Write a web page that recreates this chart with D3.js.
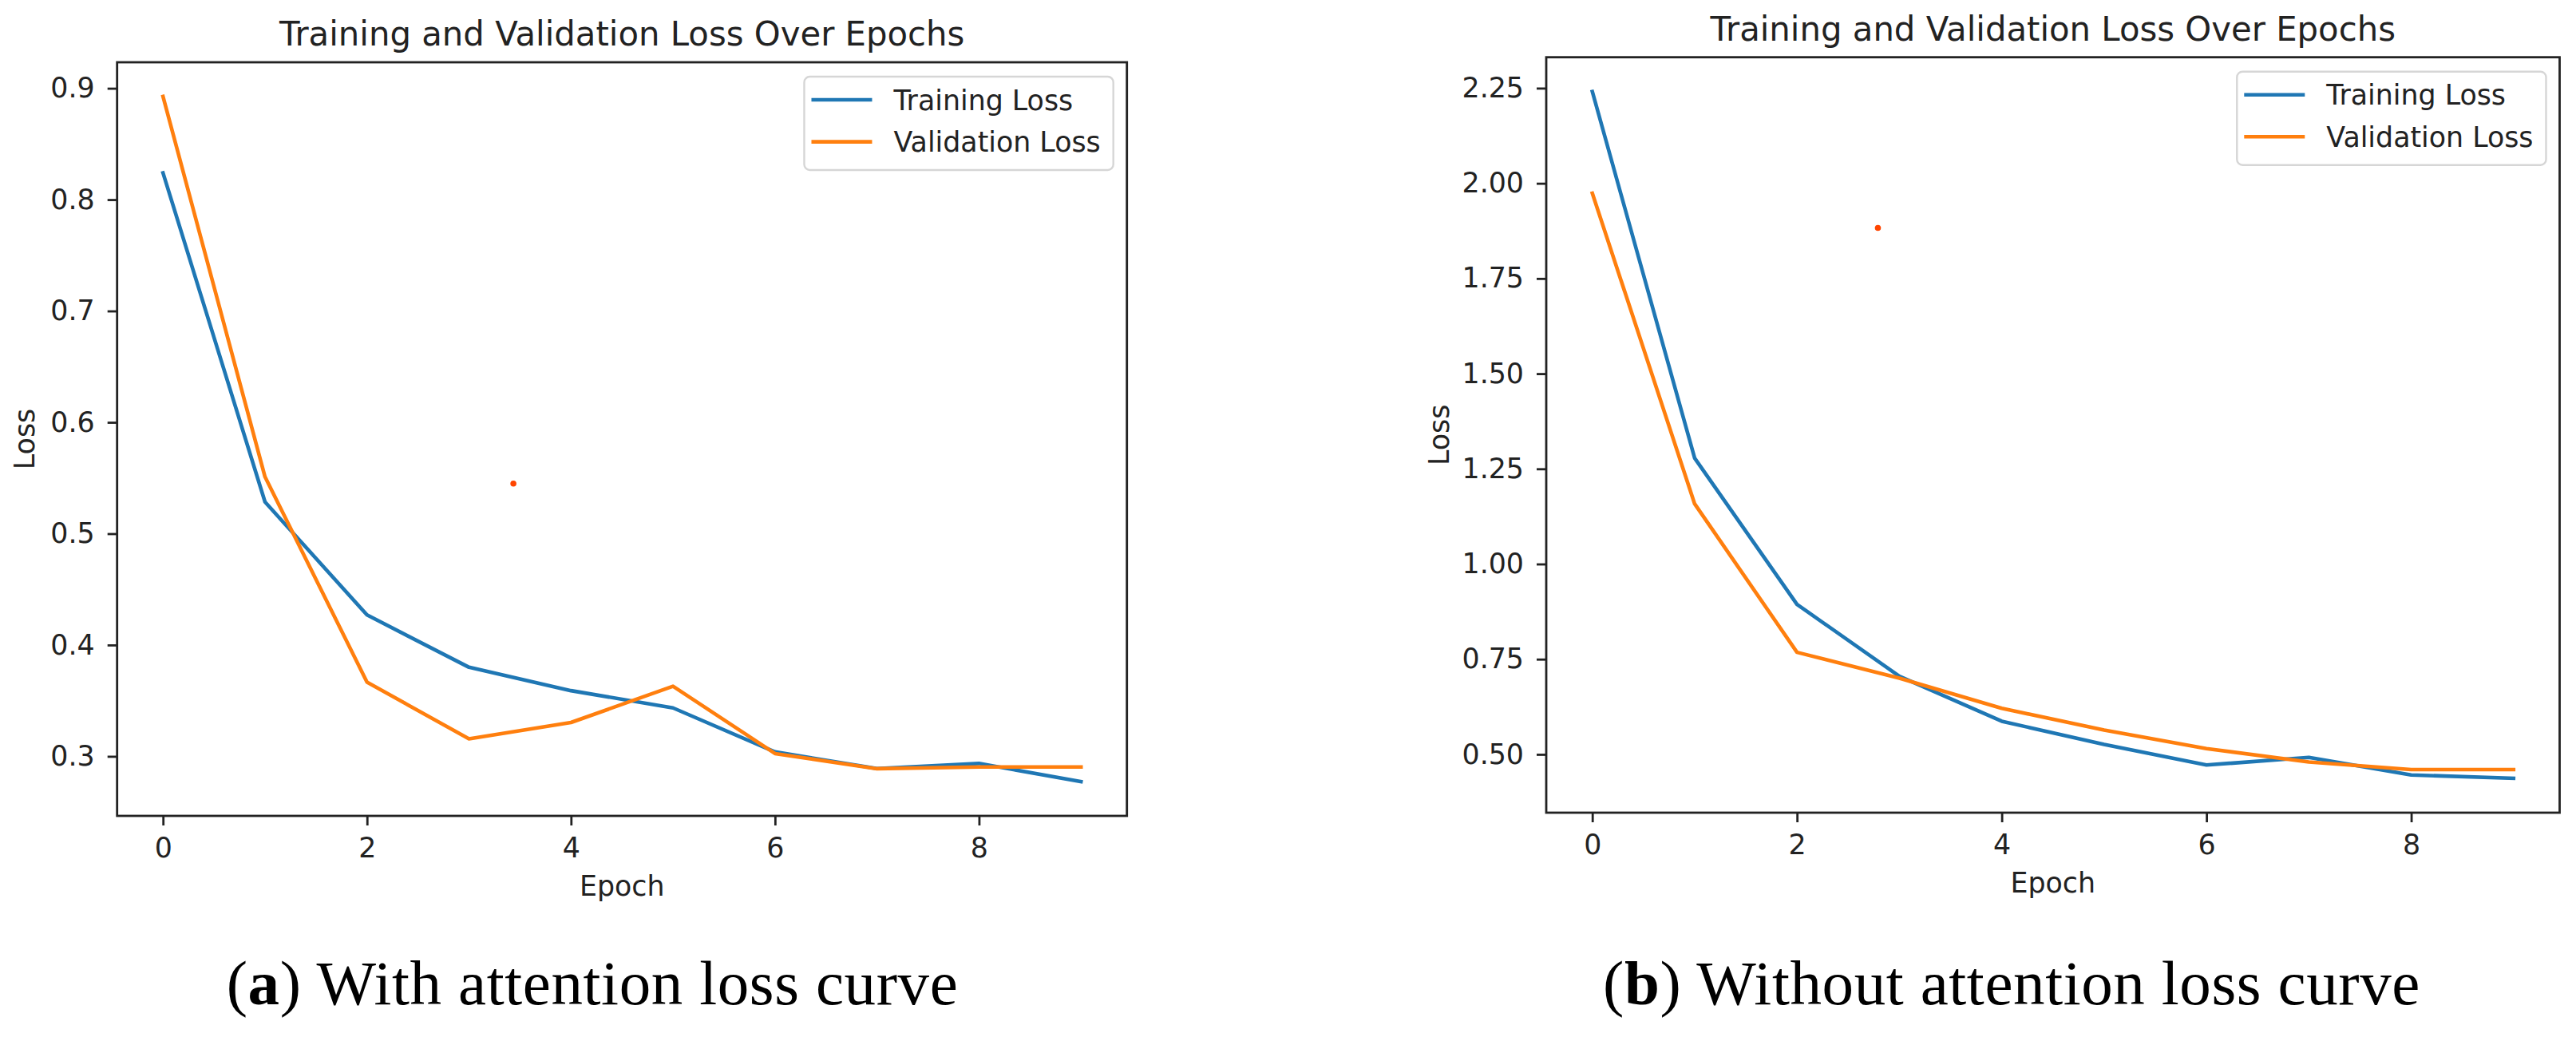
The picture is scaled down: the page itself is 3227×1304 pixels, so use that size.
<!DOCTYPE html>
<html>
<head>
<meta charset="utf-8">
<script src="https://cdn.jsdelivr.net/npm/d3@7"></script>
<style>
body { margin: 0; background: #fff; }
</style>
</head>
<body>
<script>
// values
const epochs = [0, 1, 2, 3, 4, 5, 6, 7, 8, 9];
const trainWithAtt = [0.824, 0.5285, 0.427, 0.380, 0.359, 0.3435, 0.304, 0.289, 0.2936, 0.2773];
const valWithAtt = [0.8926, 0.551, 0.3667, 0.3157, 0.3304, 0.363, 0.3025, 0.2889, 0.2904, 0.2904];
const trainNoAtt = [2.241, 1.278, 0.894, 0.705, 0.587, 0.526, 0.472, 0.492, 0.446, 0.437];
const valNoAtt = [1.974, 1.158, 0.768, 0.700, 0.621, 0.564, 0.515, 0.480, 0.460, 0.460];

// the lone orange-red dot in each plot: [epoch, loss]
const dotWithAtt = [3.435, 0.545];
const dotNoAtt = [2.79, 1.883];

// ticks and labels
const xTicks = [0, 2, 4, 6, 8];
const yTicksWithAtt = [0.3, 0.4, 0.5, 0.6, 0.7, 0.8, 0.9];
const yTicksNoAtt = [0.5, 0.75, 1.0, 1.25, 1.5, 1.75, 2.0, 2.25];
const seriesNames = ["Training Loss", "Validation Loss"];
const chartTitle = "Training and Validation Loss Over Epochs";
const captionA = ["a", " With attention loss curve"];
const captionB = ["b", " Without attention loss curve"];

const canvWidth = 3227, canvHeight = 1304;
const colors = ["#1f77b4", "#ff7f0e"];
const font = "DejaVu Sans";
const fs = 34.8;

const svg = d3.select("body").append("svg")
    .attr("width", canvWidth)
    .attr("height", canvHeight)
    .style("background", "#fff");

// matplotlib style autoscale: 5% margin each side
function padded(ext) {
    const r = ext[1] - ext[0];
    return [ext[0] - 0.05 * r, ext[1] + 0.05 * r];
}

function drawPanel(box, train, val, dot, yTicks, yFmt, ylabelOff) {
    const width = box.right - box.left;
    const height = box.bottom - box.top;

    const g = svg.append("g")
        .attr("transform", "translate(" + box.left + "," + box.top + ")");

    const xScale = d3.scaleLinear()
        .domain(padded(d3.extent(epochs)))
        .range([0, width]);
    const yScale = d3.scaleLinear()
        .domain(padded(d3.extent(train.concat(val))))
        .range([height, 0]);

    // x axis
    const xAxis = g.append("g")
        .attr("transform", "translate(0," + height + ")")
        .call(d3.axisBottom(xScale).tickValues(xTicks).tickSize(12).tickPadding(15).tickFormat(d3.format("d")));

    // y axis
    const yAxis = g.append("g")
        .call(d3.axisLeft(yScale).tickValues(yTicks).tickSize(12).tickPadding(16).tickFormat(d3.format(yFmt)));

    [xAxis, yAxis].forEach(a => {
        a.select(".domain").remove();
        a.selectAll(".tick line").attr("stroke", "#222").attr("stroke-width", 2.8);
        a.selectAll(".tick text")
            .attr("fill", "#222")
            .attr("font-family", font)
            .attr("font-size", fs);
    });

    // loss lines
    const line = d3.line()
        .x((d, i) => xScale(epochs[i]))
        .y(d => yScale(d));

    [train, val].forEach((s, k) => {
        g.append("path")
            .datum(s)
            .attr("fill", "none")
            .attr("stroke", colors[k])
            .attr("stroke-width", 4.6)
            .attr("stroke-linejoin", "round")
            .attr("stroke-linecap", "square")
            .attr("d", line);
    });

    // the stray dot
    g.append("circle")
        .attr("cx", xScale(dot[0]))
        .attr("cy", yScale(dot[1]))
        .attr("r", 3.8)
        .attr("fill", "#ff4500");

    // frame
    g.append("rect")
        .attr("width", width)
        .attr("height", height)
        .attr("fill", "none")
        .attr("stroke", "#222")
        .attr("stroke-width", 2.8);

    // title
    g.append("text")
        .attr("x", width / 2)
        .attr("y", -21)
        .attr("font-family", font)
        .attr("font-size", 41.8)
        .attr("fill", "#222")
        .style("text-anchor", "middle")
        .text(chartTitle);

    // axis labels
    g.append("text")
        .attr("x", width / 2)
        .attr("y", height + 100)
        .attr("font-family", font)
        .attr("font-size", fs)
        .attr("fill", "#222")
        .style("text-anchor", "middle")
        .text("Epoch");

    g.append("text")
        .attr("transform", "translate(" + (-ylabelOff) + "," + (height / 2) + ") rotate(-90)")
        .attr("font-family", font)
        .attr("font-size", fs)
        .attr("fill", "#222")
        .style("text-anchor", "middle")
        .text("Loss");

    // legend, upper right
    const leg = g.append("g");
    const legRect = leg.append("rect")
        .attr("rx", 7)
        .attr("fill", "#fff")
        .attr("fill-opacity", 0.8)
        .attr("stroke", "#d6d6d6")
        .attr("stroke-width", 2.4);
    let maxW = 0;
    seriesNames.forEach((name, k) => {
        leg.append("line")
            .attr("x1", 9).attr("x2", 85)
            .attr("y1", 29 + k * 52.6).attr("y2", 29 + k * 52.6)
            .attr("stroke", colors[k])
            .attr("stroke-width", 4.6);
        const t = leg.append("text")
            .attr("x", 112)
            .attr("y", 41.5 + k * 52.6)
            .attr("font-family", font)
            .attr("font-size", fs)
            .attr("fill", "#222")
            .text(name);
        maxW = Math.max(maxW, t.node().getComputedTextLength());
    });
    const legW = 112 + maxW + 16, legH = 117;
    legRect.attr("width", legW).attr("height", legH);
    leg.attr("transform", "translate(" + (width - 17 - legW) + "," + 18 + ")");
}

drawPanel({left: 146.7, right: 1411.7, top: 78, bottom: 1022},
    trainWithAtt, valWithAtt, dotWithAtt, yTicksWithAtt, ".1f", 104);
drawPanel({left: 1937, right: 3206.5, top: 71.7, bottom: 1018},
    trainNoAtt, valNoAtt, dotNoAtt, yTicksNoAtt, ".2f", 122);

// sub-figure captions
function caption(parts, cx) {
    const t = svg.append("text")
        .attr("x", cx)
        .attr("y", 1258)
        .attr("font-family", "Liberation Serif")
        .attr("font-size", 79)
        .attr("letter-spacing", 0.6)
        .attr("fill", "#000")
        .style("text-anchor", "middle");
    t.append("tspan").text("(");
    t.append("tspan").attr("font-weight", "bold").text(parts[0]);
    t.append("tspan").text(")" + parts[1]);
}
caption(captionA, 742);
caption(captionB, 2520);
</script>
</body>
</html>
